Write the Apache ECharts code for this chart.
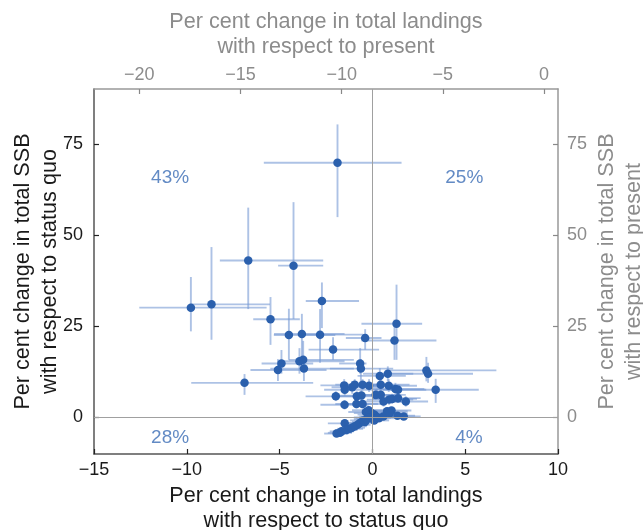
<!DOCTYPE html>
<html>
<head>
<meta charset="utf-8">
<script src="https://cdn.jsdelivr.net/npm/echarts@6/dist/echarts.min.js"></script>
<style>html,body{margin:0;padding:0;background:#fff}#c{width:643px;height:530px}</style>
</head>
<body>
<div id="c"></div>
<script>
// ---- data ----
const pointX = [
-1.88, -6.69, -4.25, -9.78, -8.67, -5.49, -2.72, -4.50, -3.80, -2.82,
-2.12, -6.89, -5.09, -4.90, -3.93, -3.73, -3.69, -0.39, 1.30, 1.19,
-0.66, -0.62, 2.91, 3.00, 3.41, 0.40, 0.83, -1.52, -1.49, -1.09,
-0.95, -0.53, -0.18, 0.45, 0.88, 1.24, 1.38, -1.97, -0.84, -0.59,
0.18, 0.45, 0.60, 0.90, 1.06, 1.38, 1.80, -1.50, -0.86, -0.53,
0.79, 1.03, 1.35, 1.69, -0.35, -0.20, -0.05, 0.10, 0.20, -0.10,
0.35, -1.93, -1.75, -1.66, -1.49, -1.40, -1.22, -1.10, -0.95, -0.80,
-0.68, -0.50, -0.40, -0.23, -0.30, 0.04, 0.10, 0.31, 0.58, 0.94
];
const pointY = [
69.8, 43.0, 41.6, 30.1, 31.0, 26.9, 31.9, 22.6, 22.9, 22.7,
18.6, 9.5, 13.0, 14.8, 15.4, 15.8, 13.4, 21.8, 25.7, 21.1,
14.8, 13.4, 12.9, 12.0, 7.6, 11.4, 12.0, 8.8, 7.6, 8.3,
9.0, 9.0, 8.7, 9.0, 8.7, 7.8, 7.6, 5.8, 5.8, 6.0,
6.2, 6.2, 4.4, 4.9, 5.1, 5.3, 4.4, 3.5, 3.7, 3.7,
1.7, 1.9, 0.5, 0.3, 1.5, 2.0, 1.2, 0.8, 0.3, 0.0,
-0.2, -4.4, -4.2, -3.8, -1.6, -3.4, -3.1, -2.8, -2.4, -2.0,
-1.5, -0.8, -1.2, -0.1, -0.5, -0.4, -0.8, -0.1, 0.3, 1.2
];
const xLow = [
-5.85, -8.22, -5.08, -12.56, -9.78, -6.42, -3.59, -5.31, -5.30, -4.00,
-3.44, -9.76, -6.57, -5.97, -5.00, -4.50, -5.50, -1.43, -0.59, -0.59,
-1.79, -2.29, 0.85, 0.85, 0.58, -0.80, -0.50, -2.80, -2.60, -2.20,
-2.00, -1.50, -1.20, -0.60, -0.30, 0.00, 0.20, -3.60, -2.20, -1.80,
-1.00, -0.80, -0.50, -0.30, 0.00, 0.20, 0.50, -2.80, -2.00, -1.60,
-0.30, 0.00, 0.40, 0.70, -1.30, -1.10, -1.00, -0.80, -0.70, -1.00,
-0.50, -2.60, -2.40, -2.30, -2.40, -2.00, -1.90, -1.70, -1.60, -1.50,
-1.40, -1.20, -1.10, -0.90, -1.00, -0.70, -0.60, -0.40, -0.20, 0.00
];
const xHigh = [
1.57, -2.65, -2.65, -5.70, -5.52, -3.91, -0.72, -2.00, -1.50, -0.50,
0.36, -3.19, -2.47, -3.19, -1.50, -1.00, -1.00, 0.49, 2.68, 3.45,
-0.32, 1.12, 6.68, 5.42, 5.73, 1.80, 2.20, 0.20, 0.30, 0.50,
0.80, 1.00, 1.50, 2.00, 2.40, 2.80, 2.90, -0.50, 0.60, 0.80,
1.50, 1.80, 1.80, 2.20, 2.40, 2.60, 3.00, -0.20, 0.30, 0.50,
1.90, 2.10, 2.30, 2.60, 0.60, 0.70, 0.90, 1.00, 1.10, 0.80,
1.20, -1.30, -1.10, -1.00, -0.60, -0.80, -0.50, -0.40, -0.30, -0.10,
0.00, 0.20, 0.30, 0.50, 0.40, 0.80, 0.90, 1.00, 1.40, 1.90
];
const yLow = [
54.9, 29.7, 27.0, 23.6, 21.3, 19.9, 24.5, 15.8, 16.4, 15.0,
15.8, 6.2, 10.0, 12.0, 12.0, 13.0, 10.0, 18.6, 15.8, 15.8,
12.0, 10.0, 9.9, 9.5, 4.0, 9.5, 10.0, 7.0, 6.0, 6.5,
7.5, 7.5, 7.0, 7.5, 7.0, 6.5, 6.0, 4.5, 4.5, 4.5,
4.8, 4.8, 3.0, 3.5, 3.8, 4.0, 3.0, 2.2, 2.5, 2.5,
0.8, 1.0, -0.3, -0.5, 0.5, 1.0, 0.3, -0.1, -0.6, -0.9,
-1.0, -5.2, -5.0, -4.6, -2.6, -4.2, -3.9, -3.6, -3.2, -2.8,
-2.4, -1.6, -2.0, -0.9, -1.3, -1.2, -1.6, -0.9, -0.5, 0.3
];
const yHigh = [
80.3, 57.5, 59.0, 38.5, 46.7, 33.0, 37.0, 29.8, 28.4, 29.7,
22.0, 11.9, 16.0, 18.5, 19.0, 21.0, 16.0, 24.2, 36.4, 26.8,
19.0, 16.0, 16.6, 15.0, 10.6, 13.5, 14.0, 10.5, 9.5, 10.0,
10.5, 10.5, 10.5, 10.5, 10.5, 9.5, 9.0, 7.2, 7.2, 7.5,
7.8, 7.8, 6.0, 6.3, 6.5, 6.8, 5.8, 4.8, 5.0, 5.0,
2.6, 2.8, 1.3, 1.1, 2.5, 3.0, 2.1, 1.7, 1.2, 0.9,
0.6, -3.6, -3.4, -3.0, -0.6, -2.6, -2.3, -2.0, -1.6, -1.2,
-0.6, 0.0, -0.4, 0.7, 0.3, 0.4, 0.0, 0.7, 1.1, 2.1
];
const bottomTicks = [-15, -10, -5, 0, 5, 10];
const topTicks = [-20, -15, -10, -5, 0];
const yTicks = [0, 25, 50, 75];
const quadText = ['43%', '25%', '28%', '4%'];
const quadX = [-10.9, 4.95, -10.9, 5.2];
const quadY = [65.6, 65.6, -5.6, -5.6];

// ---- chart ----
const FONT = 'Liberation Sans, Arial, sans-serif';
const DARK = '#1a1a1a';
const GREY = '#8c8c8c';
const fmt = v => String(v).replace('-', '\u2212');

const errData = pointX.map((x, i) => [x, pointY[i], xLow[i], xHigh[i], yLow[i], yHigh[i]]);
const ptData = pointX.map((x, i) => [x, pointY[i]]);
const quadData = quadText.map((t, i) => ({ value: [quadX[i], quadY[i]], name: t }));

const chart = echarts.init(document.getElementById('c'), null, { renderer: 'canvas' });
chart.setOption({
  animation: false,
  backgroundColor: '#fff',
  grid: { left: 94, right: 85, top: 89, bottom: 76, containLabel: false, outerBoundsMode: 'none' },
  xAxis: [
    {
      type: 'value', position: 'bottom', min: -15, max: 10, interval: 5,
      name: 'Per cent change in total landings\nwith respect to status quo',
      nameLocation: 'middle', nameGap: 28,
      nameTextStyle: { color: DARK, fontSize: 21.6, fontFamily: FONT, lineHeight: 25 },
      axisLine: { show: true, onZero: false, lineStyle: { color: '#555', width: 1.5 } },
      axisTick: { show: true, inside: true, length: 5, lineStyle: { color: '#222', width: 1.2 } },
      axisLabel: { color: DARK, fontSize: 18, fontFamily: FONT, margin: 7, formatter: fmt, showMinLabel: true, showMaxLabel: true },
      splitLine: { show: false }
    },
    {
      type: 'value', position: 'top', min: -22.24, max: 0.69,
      name: 'Per cent change in total landings\nwith respect to present',
      nameLocation: 'middle', nameGap: 29,
      nameTextStyle: { color: GREY, fontSize: 21.6, fontFamily: FONT, lineHeight: 25 },
      axisLine: { show: true, onZero: false, lineStyle: { color: '#999', width: 1.5 } },
      axisTick: { show: true, inside: true, length: 5, customValues: topTicks, lineStyle: { color: '#888', width: 1.2 } },
      axisLabel: { color: GREY, fontSize: 18, fontFamily: FONT, margin: 5, customValues: topTicks, formatter: fmt },
      splitLine: { show: false }
    }
  ],
  yAxis: [
    {
      type: 'value', position: 'left', min: -10, max: 90,
      name: 'Per cent change in total SSB\nwith respect to status quo',
      nameLocation: 'middle', nameGap: 30, nameRotate: 90, nameMoveOverlap: false,
      nameTextStyle: { color: DARK, fontSize: 21.6, fontFamily: FONT, lineHeight: 27 },
      axisLine: { show: true, onZero: false, lineStyle: { color: '#555', width: 1.5 } },
      axisTick: { show: true, inside: true, length: 5, customValues: yTicks, lineStyle: { color: '#222', width: 1.2 } },
      axisLabel: { color: DARK, fontSize: 18, fontFamily: FONT, margin: 11, customValues: yTicks, formatter: fmt },
      splitLine: { show: false }
    },
    {
      type: 'value', position: 'right', min: -10, max: 90,
      name: 'Per cent change in total SSB\nwith respect to present',
      nameLocation: 'middle', nameGap: 36, nameRotate: 90, nameMoveOverlap: false,
      nameTextStyle: { color: GREY, fontSize: 21.6, fontFamily: FONT, lineHeight: 27 },
      axisLine: { show: true, onZero: false, lineStyle: { color: '#999', width: 1.5 } },
      axisTick: { show: true, inside: true, length: 5, customValues: yTicks, lineStyle: { color: '#888', width: 1.2 } },
      axisLabel: { color: GREY, fontSize: 18, fontFamily: FONT, margin: 9, customValues: yTicks, formatter: fmt },
      splitLine: { show: false }
    }
  ],
  series: [
    {
      type: 'custom', xAxisIndex: 0, yAxisIndex: 0, z: 2, silent: true,
      data: errData,
      encode: { x: [0, 2, 3], y: [1, 4, 5] },
      renderItem: function (params, api) {
        const x = api.value(0), y = api.value(1);
        const l = api.coord([api.value(2), y]), r = api.coord([api.value(3), y]);
        const b = api.coord([x, api.value(4)]), t = api.coord([x, api.value(5)]);
        const st = { stroke: 'rgba(118,154,212,0.6)', lineWidth: 1.9 };
        return {
          type: 'group',
          children: [
            { type: 'line', shape: { x1: l[0], y1: l[1], x2: r[0], y2: r[1] }, style: st },
            { type: 'line', shape: { x1: b[0], y1: b[1], x2: t[0], y2: t[1] }, style: st }
          ]
        };
      },
      markLine: {
        silent: true, symbol: 'none', animation: false,
        label: { show: false },
        lineStyle: { color: '#a0a0a0', width: 1, type: 'solid' },
        data: [{ xAxis: 0 }, { yAxis: 0 }]
      }
    },
    {
      type: 'scatter', xAxisIndex: 0, yAxisIndex: 0, z: 3, silent: true,
      symbol: 'circle', symbolSize: 8.5,
      itemStyle: { color: '#2b60ad', opacity: 1 },
      data: ptData
    },
    {
      type: 'scatter', xAxisIndex: 0, yAxisIndex: 0, z: 4, silent: true,
      symbolSize: 0,
      data: quadData,
      label: {
        show: true, position: 'inside', formatter: p => p.name,
        color: '#3b6db5', fontSize: 19, fontFamily: FONT
      }
    }
  ]
});
</script>
</body>
</html>
